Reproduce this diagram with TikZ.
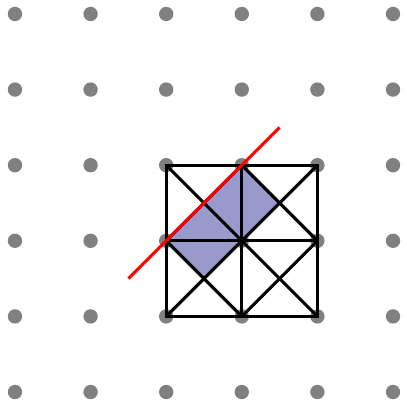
\documentclass[tikz,border=0pt]{standalone}
\usetikzlibrary{calc}
\definecolor{shadeblue}{RGB}{153,153,204}
\definecolor{dotgray}{RGB}{128,128,128}
\begin{document}
\begin{tikzpicture}[
  lattice dot/.style = {
    circle,
    fill=dotgray,
    inner sep=0pt,
    minimum size=0.19cm
  },
  grid line/.style = {
    black,
    line width=1.15pt
  },
  cut line/.style = {
    red,
    line width=1.15pt
  },
  shaded part/.style = {
    fill=shadeblue
  }
]
\useasboundingbox (-0.198,-0.159) rectangle (5.185,5.185);

% lattice points
\foreach \i in {0,...,5} {
  \foreach \j in {0,...,5} {
    \node[lattice dot] (p\i\j) at (\i,\j) {};
  }
}

% shaded region
\fill[shaded part] (2,2) -- (3,3) -- (3.5,2.5) -- (3,2) -- (2.5,1.5) -- cycle;

% square with subdivisions
\draw[grid line] (2,1) rectangle (4,3);
\draw[grid line] (3,1) -- (3,3);
\draw[grid line] (2,2) -- (4,2);
\foreach \x in {2,3} {
  \foreach \y in {1,2} {
    \draw[grid line] (\x,\y) -- ++(1,1);
    \draw[grid line] (\x,\y+1) -- ++(1,-1);
  }
}

% cutting line
\coordinate (c1) at (1.5,1.5);
\coordinate (c2) at (3.5,3.5);
\draw[cut line] (c1) -- (c2);

\end{tikzpicture}
\end{document}
